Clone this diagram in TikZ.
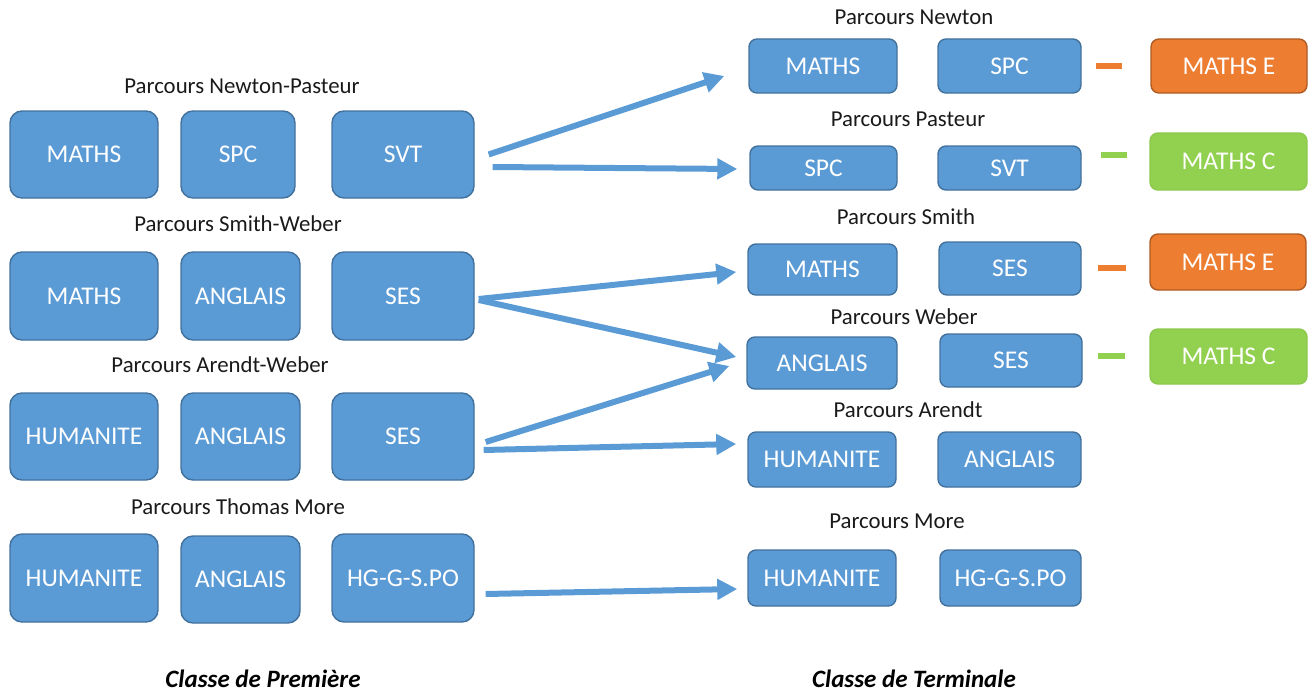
\documentclass[tikz,border=0pt]{standalone}
\usepackage{fontspec}
\setmainfont{Carlito}
\usetikzlibrary{arrows.meta}
\definecolor{bfill}{HTML}{5B9BD5}
\definecolor{bdraw}{HTML}{41719C}
\definecolor{ofill}{HTML}{ED7D31}
\definecolor{odraw}{HTML}{AE5A21}
\definecolor{gfill}{HTML}{92D050}
\definecolor{gdraw}{HTML}{8CC84B}
\definecolor{txt}{HTML}{1A1A1A}
\newcommand\bx[7]{\node[#7, minimum width={(#4-#2)*1pt}, minimum height={(#5-#3)*1pt}] (#1) at ({(#2+#4)/2},{(#3+#5)/2}) {#6};}
\begin{document}
\begin{tikzpicture}[x=1pt,y=-1pt,
  bigbox/.style={draw=bdraw, fill=bfill, line width=1.4pt, rounded corners=12pt, inner sep=0pt, text=white, font=\fontsize{25.5}{30}\selectfont},
  smallbox/.style={bigbox, rounded corners=8pt},
  obox/.style={smallbox, draw=odraw, fill=ofill},
  gbox/.style={smallbox, draw=gdraw, fill=gfill},
  lab/.style={text=txt, font=\fontsize{22.8}{27}\selectfont, inner sep=0pt},
  foot/.style={text=black, font=\fontsize{25}{29}\selectfont\bfseries\itshape, inner sep=0pt},
  conn/.style={draw=bfill, line width=6pt, -{Triangle[length=20pt,width=20pt]}},
  odash/.style={draw=ofill, line width=6pt},
  gdash/.style={draw=gfill, line width=6pt}]
\useasboundingbox (0,0) rectangle (1309,693);
% left column
\node[lab] (tl1) at (242,86) {Parcours Newton-Pasteur};
\bx{l11}{10}{111}{158}{198}{MATHS}{bigbox}
\bx{l12}{181}{111}{295}{198}{SPC}{bigbox}
\bx{l13}{332}{111}{474}{198}{SVT}{bigbox}
\node[lab] (tl2) at (238,224) {Parcours Smith-Weber};
\bx{l21}{10}{252}{158}{340}{MATHS}{bigbox}
\bx{l22}{181}{252}{300}{340}{ANGLAIS}{bigbox}
\bx{l23}{332}{252}{474}{340}{SES}{bigbox}
\node[lab] (tl3) at (220,365) {Parcours Arendt-Weber};
\bx{l31}{10}{393}{158}{480}{HUMANITE}{bigbox}
\bx{l32}{181}{393}{300}{480}{ANGLAIS}{bigbox}
\bx{l33}{332}{393}{474}{480}{SES}{bigbox}
\node[lab] (tl4) at (238,507) {Parcours Thomas More};
\bx{l41}{10}{534}{158}{622}{HUMANITE}{bigbox}
\bx{l42}{181}{536}{300}{623}{ANGLAIS}{bigbox}
\bx{l43}{332}{534}{474}{622}{HG-G-S.PO}{bigbox}
% right column
\node[lab] (tr1) at (914,17) {Parcours Newton};
\bx{r11}{749}{39}{897}{93}{MATHS}{smallbox}
\bx{r12}{938}{39}{1081}{93}{SPC}{smallbox}
\bx{r13}{1151}{39}{1307}{93}{MATHS E}{obox}
\node[lab] (tr2) at (908,119) {Parcours Pasteur};
\bx{r21}{750}{146}{897}{190}{SPC}{smallbox}
\bx{r22}{938}{146}{1081}{190}{SVT}{smallbox}
\bx{r23}{1150}{133}{1307}{190}{MATHS C}{gbox}
\node[lab] (tr3) at (906,217) {Parcours Smith};
\bx{r31}{748}{244}{897}{295}{MATHS}{smallbox}
\bx{r32}{939}{242}{1081}{295}{SES}{smallbox}
\bx{r33}{1150}{234}{1306}{290}{MATHS E}{obox}
\node[lab] (tr4) at (904,317) {Parcours Weber};
\bx{r41}{747}{337}{897}{389}{ANGLAIS}{smallbox}
\bx{r42}{940}{334}{1082}{387}{SES}{smallbox}
\bx{r43}{1150}{329}{1307}{384}{MATHS C}{gbox}
\node[lab] (tr5) at (908,410) {Parcours Arendt};
\bx{r51}{748}{432}{896}{487}{HUMANITE}{smallbox}
\bx{r52}{938}{432}{1081}{487}{ANGLAIS}{smallbox}
\node[lab] (tr6) at (897,521) {Parcours More};
\bx{r61}{748}{550}{896}{606}{HUMANITE}{smallbox}
\bx{r62}{940}{550}{1081}{606}{HG-G-S.PO}{smallbox}
% dashes
\draw[odash] ([xshift=14pt]r12.east) -- ([xshift=-28pt]r13.west);
\draw[gdash] ([shift={(19,-13)}]r22.east) -- ([shift={(-22,-6.5)}]r23.west);
\draw[odash] ([shift={(16,-0.5)}]r32.east) -- ([shift={(-23,6)}]r33.west);
\draw[gdash] ([shift={(15,-4.5)}]r42.east) -- ([shift={(-24,-0.5)}]r43.west);
% connectors
\draw[conn] ([shift={(14,0)}]l13.east) -- ([shift={(-24,10)}]r11.west);
\draw[conn] ([shift={(18,12.5)}]l13.east) -- ([shift={(-12,1)}]r21.west);
\draw[conn] ([shift={(4,3)}]l23.east) -- ([shift={(-11,2.5)}]r31.west);
\draw[conn] ([shift={(4,4)}]l23.east) -- ([shift={(-10,-6)}]r41.west);
\draw[conn] ([shift={(11,5.5)}]l33.east) -- ([shift={(-17,3)}]r41.west);
\draw[conn] ([shift={(9,13.5)}]l33.east) -- ([shift={(-11,-15.5)}]r51.west);
\draw[conn] ([shift={(11,16)}]l43.east) -- ([shift={(-10,11)}]r61.west);
% footers
\node[foot] (f1) at (263,679) {Classe de Première};
\node[foot] (f2) at (914,679) {Classe de Terminale};
\end{tikzpicture}
\end{document}
